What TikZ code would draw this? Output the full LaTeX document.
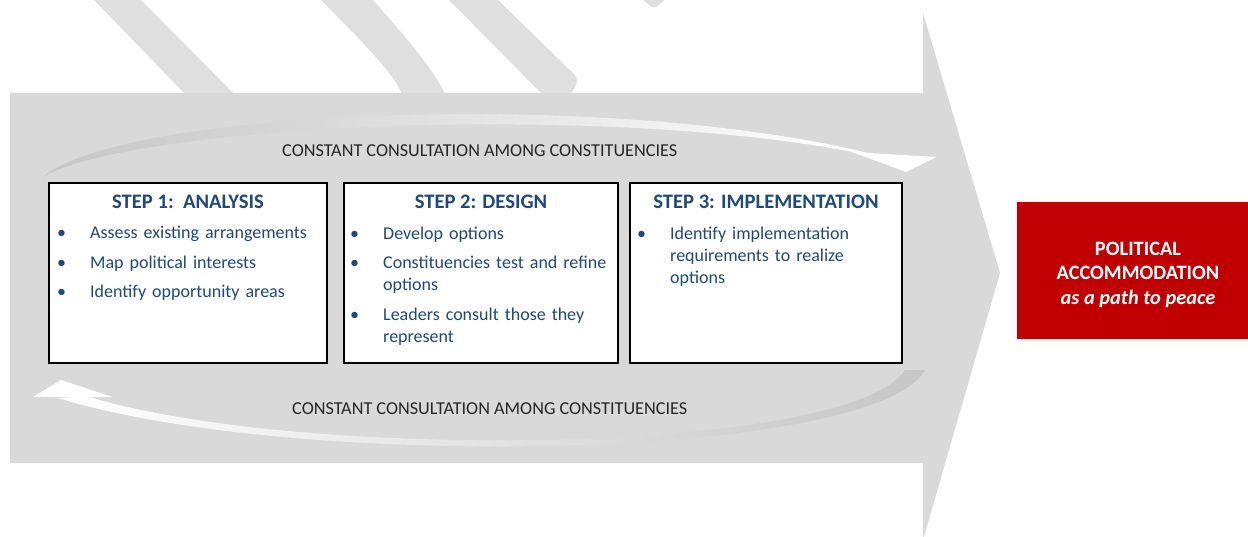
\documentclass[tikz,border=0pt]{standalone}
\usepackage{fontspec}
\setmainfont{Carlito}
\setlength{\parindent}{0pt}

\definecolor{arrowgray}{RGB}{217,217,217}
\definecolor{bandgray}{RGB}{223,223,223}
\definecolor{ringgray}{RGB}{198,198,198}
\definecolor{stepblue}{RGB}{31,73,125}
\definecolor{goalred}{RGB}{192,0,0}
\definecolor{noteblack}{RGB}{38,38,38}

\tikzset{
    stepbox/.style={draw=black, line width=2pt, fill=white, inner sep=0pt, minimum height=180pt},
    steptitle/.style={anchor=base, inner sep=0pt, text=stepblue, font=\fontsize{20.6}{24}\selectfont\bfseries},
    stepitem/.style={anchor=base west, inner sep=0pt, text width=230pt, align=left, text=stepblue, font=\fontsize{18}{22}\selectfont},
    loopnote/.style={anchor=base west, inner sep=0pt, text=noteblack, font=\fontsize{18.2}{22}\selectfont},
    goalbox/.style={fill=goalred, inner sep=0pt, minimum width=242pt, minimum height=137pt},
    goaltext/.style={align=center, inner sep=0pt, text=white, font=\fontsize{20.4}{24.5}\selectfont\bfseries}
}
\newcommand{\itembullet}{\llap{\textbullet\hspace{24pt}}}

\begin{document}
\begin{tikzpicture}[x=1pt,y=-1pt]
    \useasboundingbox (0,0) rectangle (1248,537);
    %draw bands behind the big arrow
    \fill[bandgray] (94,0) -- (141,0) -- (236,96) -- (187,96) -- cycle;
    \fill[bandgray] (321,0) .. controls (360,40) and (392,70) .. (403,96) -- (446,96) .. controls (434,70) and (410,42) .. (373,0) -- cycle;
    \fill[bandgray] (449,0) -- (498,0) [rounded corners=6pt] -- (579,79) -- (570,96) [sharp corners] -- (544,96) -- cycle;
    \fill[bandgray, rounded corners=4pt] (636,-6) -- (654,9) -- (672,-6) -- cycle;
    %draw big arrow
    \fill[arrowgray] (10,93) -- (923,93) -- (923,13) -- (1000,273) -- (923,540) -- (923,463) -- (10,463) -- cycle;
    %draw consultation loops
    \shade[left color=ringgray, middle color=arrowgray, right color=white]
        (43,177) .. controls (120,110) and (600,88) .. (868,153) -- (858,153) .. controls (600,102) and (130,125) .. (43,177) -- cycle;
    \fill[white] (852,152) -- (936,157) -- (906,172) -- cycle;
    \shade[left color=white, middle color=arrowgray, right color=ringgray]
        (86,396) .. controls (300,462) and (850,455) .. (905,370) -- (925,370) .. controls (875,460) and (300,472) .. (58,398) -- cycle;
    \fill[white] (33,397) -- (61,380) -- (112,397) -- cycle;
    \node[loopnote] (upper note) at (282,157) {CONSTANT CONSULTATION AMONG CONSTITUENCIES};
    \node[loopnote] (lower note) at (292,414) {CONSTANT CONSULTATION AMONG CONSTITUENCIES};
    %draw step boxes
    \node[stepbox, minimum width=278pt] (analysis) at (188,273) {};
    \node[stepbox, minimum width=274pt] (design) at (481,273) {};
    \node[stepbox, minimum width=272pt] (implementation) at (766,273) {};
    \node[steptitle] (analysis title) at (188,209) {STEP 1:\ \ ANALYSIS};
    \node[steptitle] (design title) at (481,209) {STEP 2: DESIGN};
    \node[steptitle] (implementation title) at (766,209) {STEP 3: IMPLEMENTATION};
    \foreach \y/\txt [count=\i] in {239/Assess existing arrangements, 268.5/Map political interests, 298/Identify opportunity areas}
        \node[stepitem] (analysis-\i) at (90,\y) {\itembullet\txt};
    \foreach \y/\txt [count=\i] in {240/Develop options, 269/{Constituencies test and refine\\options}, 321/{Leaders consult those they\\represent}}
        \node[stepitem] (design-\i) at (383,\y) {\itembullet\txt};
    \node[stepitem] (implementation-1) at (670,240) {\itembullet Identify implementation\\requirements to realize\\options};
    %draw goal
    \node[goalbox] (goal) at (1138,270.5) {};
    \node[goaltext] (goal text) at (1138,274.5) {POLITICAL\\ACCOMMODATION\\\textit{as a path to peace}};
\end{tikzpicture}
\end{document}
